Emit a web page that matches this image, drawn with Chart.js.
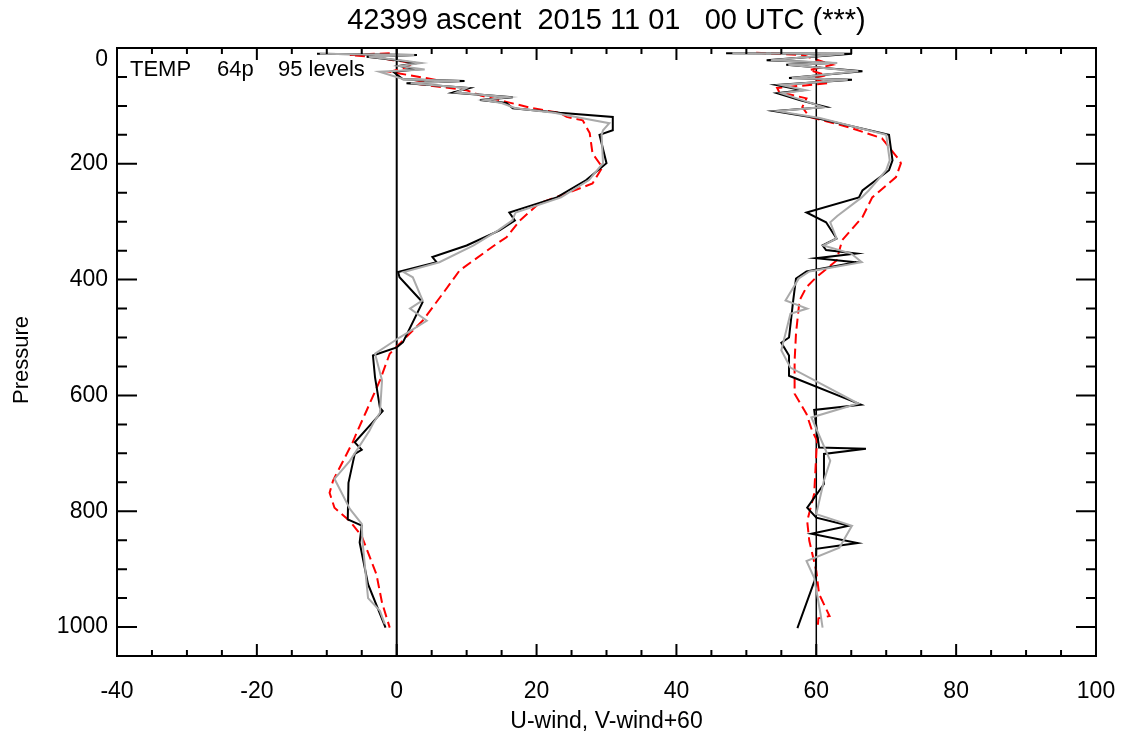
<!DOCTYPE html>
<html lang="en">
<head>
<meta charset="UTF-8">
<title>42399 ascent</title>
<script src="https://cdn.jsdelivr.net/npm/chart.js"></script>
<style>
  body { margin: 0; background: #fff; }
  #wrap { width: 1123px; height: 739px; }
</style>
</head>
<body>
<div id="wrap"><canvas id="grafico" width="1123" height="739"></canvas></div>
<script>
// pressure levels (hPa) and winds
const uBlackP = [10,12,15,21,26,31,37,41,54,57,61,69,77,85,90,95,104,112,119,142,150,199,228,258,284,298,315,341,361,370,387,396,439,508,517,531,569,621,627,681,694,701,751,814,825,854,926,1001];
const uBlackV = [-11.4,2.9,-4.3,0,2.9,0.4,2.9,-0.5,0.9,9.7,1.4,10.4,8,16.6,11.9,15.7,16.6,23.3,30.9,30.9,29,30,27.1,22.9,16.1,16.9,14.7,10,5.1,5.7,0.2,0.4,3.7,0.9,0,-3.4,-3.1,-2.4,-2,-6,-5,-6,-6.9,-7,-5,-5.3,-4.1,-1.6];

const uGrayP = [10,12,15,21,26,31,37,41,54,57,61,69,77,85,90,95,104,112,120,130,142,150,199,228,258,284,298,315,341,370,387,396,436,450,471,500,528,574,630,649,661,713,744,796,822,851,950,972,995];
const uGrayV = [-11,2.5,-4,0.5,3.5,0.4,4,-2.5,1,9,2,10,8.5,16,12.5,15,17,22.5,26,30.4,29.5,29.3,29.5,27.5,23.5,17,16.5,14.5,11,6.1,1,2.3,3.7,1.9,4.3,0.4,-3.1,-2.1,-2.4,-3.4,-3.9,-6.7,-8.9,-6.7,-5,-4.9,-4.1,-2.4,-1.7];

const uRedP = [9,12,16,21,26,33,41,54,61,73,82,93,104,112,119,125,147,182,206,234,251,268,298,327,338,384,424,471,511,528,574,626,661,681,747,768,794,817,843,909,958,1001];
const uRedV = [-1,-6.7,-3,-0.5,2.3,1.5,-1,5.1,2.3,10,12,15.7,19.4,23.3,24.3,26.6,27.6,28,29.4,28,24.3,20.4,17.6,15.7,14.3,9,6.6,3.7,0.4,-1,-2.4,-4.3,-5.6,-6.3,-9.1,-9.6,-8.9,-6.7,-5,-2.9,-2.1,-1];

const vBlackP = [9,10,21,26,29,40,52,55,64,73,78,90,102,109,121,150,194,211,246,258,284,301,329,341,349,355,363,370,386,398,436,500,509,531,566,616,625,690,692,701,753,794,811,825,839,855,865,915,1002];
const vBlackV = [-12.9,5.1,-7.1,2.3,-4.3,6.6,-3.9,5.1,-5.7,-2,-5.6,-2.4,1.4,-6,0,10.4,10.9,10.4,6.6,6.1,-1.4,1.4,2.9,0.9,1.4,5.7,0,5.7,-1.4,-2.9,-3.3,-3.9,-5,-3.9,-3.9,6.4,-0.3,0.4,7.1,1.1,1.1,-1.3,0,4.7,-0.7,5.9,0,-0.1,-2.7];

const vGrayP = [9,10,21,26,29,40,52,55,64,73,78,90,102,109,121,150,194,211,246,258,290,301,329,341,355,370,386,398,436,450,459,522,552,614,638,713,747,805,825,863,886,915,977,1001];
const vGrayV = [-12,4,-6.5,3,-4,6,-3.5,4.5,-5,-1.5,-5,-2,1,-5.5,0.5,10,10.5,10,7.5,6.5,3,2,2.9,1,5,6.5,-1,-2.5,-4.4,-1.3,-3.7,-5,-3.7,6,-0.7,2,1.1,0,5.1,3.3,-1.4,-0.3,0.6,0.9];

const vRedP = [8,10,12,29,38,47,52,61,69,76,87,102,119,137,156,194,199,223,258,292,332,367,396,413,436,493,540,597,632,661,678,770,817,851,903,943,981,985,1002];
const vRedV = [-8.6,-5.3,-2,2.3,-1,1.4,-0.6,1.6,-5.6,-5.3,-1.4,-2,-1,4.7,9.4,11.9,12.1,11.4,8,6.6,3.7,2.9,0,-1.4,-2.4,-2.9,-3.1,-3.1,-1.4,-0.6,0.1,-0.3,-1.3,-1,0,0.4,1.9,0.3,0.2];

const vOffset = 60;
const xTicks = [-40,-20,0,20,40,60,80,100];
const yTicks = [0,200,400,600,800,1000];

const titulo = '42399 ascent  2015 11 01   00 UTC (***)';
const infoTexto = ['TEMP', '64p', '95 levels'];

function pares(ps, vs, off) {
  return ps.map((p, i) => ({ x: vs[i] + off, y: p }));
}

function serie(ps, vs, off, cor, tracejado) {
  return {
    data: pares(ps, vs, off),
    showLine: true,
    borderColor: cor,
    borderWidth: 2,
    borderDash: tracejado ? [10, 5] : [],
    pointRadius: 0,
    tension: 0,
    fill: false
  };
}

const FONTE = '"Liberation Sans", Arial, sans-serif';

const moldura = {
  id: 'moldura',
  beforeDatasetsDraw(chart) {
    const { ctx, chartArea: a, scales: { x } } = chart;
    ctx.save();
    ctx.strokeStyle = '#000';
    ctx.lineWidth = 2;
    let px = x.getPixelForValue(0);
    ctx.beginPath(); ctx.moveTo(px, a.top); ctx.lineTo(px, a.bottom); ctx.stroke();
    ctx.lineWidth = 1.5;
    px = x.getPixelForValue(60);
    ctx.beginPath(); ctx.moveTo(px, a.top); ctx.lineTo(px, a.bottom); ctx.stroke();
    ctx.restore();
  },
  afterDraw(chart) {
    const { ctx, chartArea: a, scales: { x, y } } = chart;
    ctx.save();
    ctx.strokeStyle = '#000';
    ctx.lineWidth = 2;
    ctx.strokeRect(a.left, a.top, a.right - a.left, a.bottom - a.top);

    // ticks on all four sides, pointing inward
    ctx.beginPath();
    for (let v = -40; v <= 100; v += 5) {
      const px = x.getPixelForValue(v);
      const len = v % 20 === 0 ? 12 : 6;
      ctx.moveTo(px, a.bottom); ctx.lineTo(px, a.bottom - len);
      ctx.moveTo(px, a.top); ctx.lineTo(px, a.top + len);
    }
    for (let p = 0; p <= 1050; p += 50) {
      const py = y.getPixelForValue(p);
      const len = p % 200 === 0 ? 20 : 10;
      ctx.moveTo(a.left, py); ctx.lineTo(a.left + len, py);
      ctx.moveTo(a.right, py); ctx.lineTo(a.right - len, py);
    }
    ctx.stroke();

    ctx.fillStyle = '#000';
    ctx.font = '23px ' + FONTE;
    ctx.textAlign = 'center';
    ctx.textBaseline = 'middle';
    xTicks.forEach(v => ctx.fillText(String(v), x.getPixelForValue(v), a.bottom + 36));

    ctx.textAlign = 'right';
    yTicks.forEach(p => {
      const py = Math.max(y.getPixelForValue(p), a.top + 12);
      ctx.fillText(String(p), a.left - 9, py);
    });

    ctx.textAlign = 'center';
    ctx.fillText('U-wind, V-wind+60', (a.left + a.right) / 2, 722);

    ctx.save();
    ctx.translate(22, (a.top + a.bottom) / 2 + 8);
    ctx.rotate(-Math.PI / 2);
    ctx.font = '22px ' + FONTE;
    ctx.fillText('Pressure', 0, 0);
    ctx.restore();

    ctx.font = '29px ' + FONTE;
    ctx.fillText(titulo, (a.left + a.right) / 2, 21);

    ctx.font = '22px ' + FONTE;
    ctx.textAlign = 'left';
    ctx.fillText(infoTexto[0], 130, 70);
    ctx.fillText(infoTexto[1], 217, 70);
    ctx.fillText(infoTexto[2], 278, 70);
    ctx.restore();
  }
};

new Chart(document.getElementById('grafico').getContext('2d'), {
  type: 'scatter',
  data: {
    datasets: [
      serie(uGrayP, uGrayV, 0, '#aaaaaa', false),
      serie(vGrayP, vGrayV, vOffset, '#aaaaaa', false),
      serie(uBlackP, uBlackV, 0, '#000000', false),
      serie(vBlackP, vBlackV, vOffset, '#000000', false),
      serie(uRedP, uRedV, 0, '#ff0000', true),
      serie(vRedP, vRedV, vOffset, '#ff0000', true)
    ]
  },
  options: {
    responsive: false,
    animation: false,
    devicePixelRatio: 1,
    layout: { padding: { left: 117, right: 27, top: 48, bottom: 83 } },
    plugins: { legend: { display: false }, tooltip: { enabled: false } },
    scales: {
      x: { type: 'linear', min: -40, max: 100, display: false },
      y: { type: 'linear', min: 0, max: 1050, reverse: true, display: false }
    }
  },
  plugins: [moldura]
});
</script>
</body>
</html>
